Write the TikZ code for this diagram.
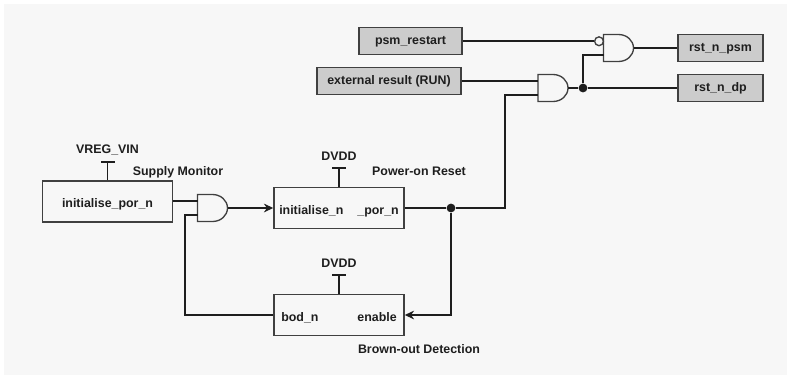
\documentclass[tikz,border=0pt]{standalone}
\usepackage{fontspec}
\setmainfont{Liberation Sans}
\usetikzlibrary{arrows.meta}
\definecolor{panel}{HTML}{F7F7F7}
\definecolor{ink}{HTML}{1E1E1E}
\definecolor{boxgray}{HTML}{CCCCCC}
\tikzset{
	sig/.style={line width=1.3pt, draw=ink},
	lab/.style={font=\fontsize{9.3}{10}\selectfont\bfseries, text=ink, inner sep=0pt, text height=6.5pt, text depth=1.2pt},
	block/.style={draw=ink!85, line width=1.1pt, fill=panel, inner sep=0pt},
	port/.style={draw=ink!85, line width=1.1pt, fill=boxgray, inner sep=0pt, font=\fontsize{9.3}{10}\selectfont\bfseries, text=ink, text height=6.5pt, text depth=1.2pt},
	gatebody/.style={draw=ink!85, line width=1pt, fill=panel},
	bubble/.style={circle, draw=ink!85, line width=1pt, fill=panel, inner sep=0pt, minimum size=6.6pt},
	dot/.style={circle, fill=ink, inner sep=0pt, minimum size=6.6pt},
	tip/.style={-{Stealth[length=7pt,width=6.5pt]}},
}
\newcommand{\andgate}[2]{%
	\begin{scope}[shift={(#2)}]
		\draw[gatebody] (0,-13.5) -- (15,-13.5) .. controls (23.3,-13.5) and (30,-7.5) .. (30,0) .. controls (30,7.5) and (23.3,13.5) .. (15,13.5) -- (0,13.5) -- cycle;
		\coordinate (#1one) at (0,-6.75);
		\coordinate (#1two) at (0,6.75);
		\coordinate (#1out) at (30,0);
	\end{scope}}
\begin{document}
\begin{tikzpicture}[x=.75pt,y=-.75pt]
	\useasboundingbox (0,0) rectangle (787,376);
	\fill[white] (0,0) rectangle (787,376);
	\fill[panel] (4,4) rectangle (787,375);
	% les blocs
	\node[block, minimum width=97.2pt, minimum height=30.6pt] (monitor) at (107.5,201.5) {};
	\node[block, minimum width=97.5pt, minimum height=30.6pt] (por) at (339,208) {};
	\node[block, minimum width=97.5pt, minimum height=30.6pt] (bod) at (339,315) {};
	\node[lab] (initpor) at (107.5,204) {initialise\_por\_n};
	\node[lab, anchor=west] (initn) at (279,211) {initialise\_n};
	\node[lab, anchor=east] (porn) at (399,211) {\_por\_n};
	\node[lab, anchor=west] (bodn) at (281,318) {bod\_n};
	\node[lab, anchor=east] (enable) at (397,318) {enable};
	\node[lab] (vreg) at (107.5,150) {VREG\_VIN};
	\node[lab] (dvdda) at (339,157) {DVDD};
	\node[lab] (dvddb) at (339,264) {DVDD};
	\node[lab] (monlab) at (178,172) {Supply Monitor};
	\node[lab] (porlab) at (419,172) {Power-on Reset};
	\node[lab] (bodlab) at (419,349.5) {Brown-out Detection};
	% les sorties
	\node[port, minimum width=77.5pt, minimum height=20.5pt] (restart) at (410.5,41) {psm\_restart};
	\node[port, minimum width=108pt, minimum height=20.5pt] (external) at (389,81) {external result (RUN)};
	\node[port, minimum width=63.5pt, minimum height=20.5pt] (rstpsm) at (720.5,48) {rst\_n\_psm};
	\node[port, minimum width=63.5pt, minimum height=20.5pt] (rstdp) at (720.5,88) {rst\_n\_dp};
	% les portes
	\andgate{gatea}{197.5,208}
	\andgate{gateb}{538,88}
	\andgate{gatec}{603.5,48}
	\node[bubble] (invert) at (599,41.25) {};
	\node[dot] (joina) at (451,208) {};
	\node[dot] (joinb) at (583,88) {};
	% les fils
	\draw[sig] (monitor.east |- gateaone) -- (gateaone);
	\draw[sig, tip] (gateaout) -- (por.west);
	\draw[sig] (gateatwo) -| (185,315) -- (bod.west);
	\draw[sig] (por.east) -- (joina) -- (505,208) |- (gatebtwo);
	\draw[sig, tip] (joina) |- (bod.east);
	\draw[sig] (external.east |- gatebone) -- (gatebone);
	\draw[sig] (gatebout) -- (joinb) -- (rstdp.west);
	\draw[sig] (joinb) |- (gatectwo);
	\draw[sig] (restart.east |- invert) -- (invert.west);
	\draw[sig] (gatecout) -- (rstpsm.west);
	% les alimentations
	\draw[sig] (monitor.north) -- (107.5,162) (101,162) -- (115,162);
	\draw[sig] (por.north) -- (339,168) (332,168) -- (346,168);
	\draw[sig] (bod.north) -- (339,275) (332,275) -- (346,275);
\end{tikzpicture}
\end{document}
